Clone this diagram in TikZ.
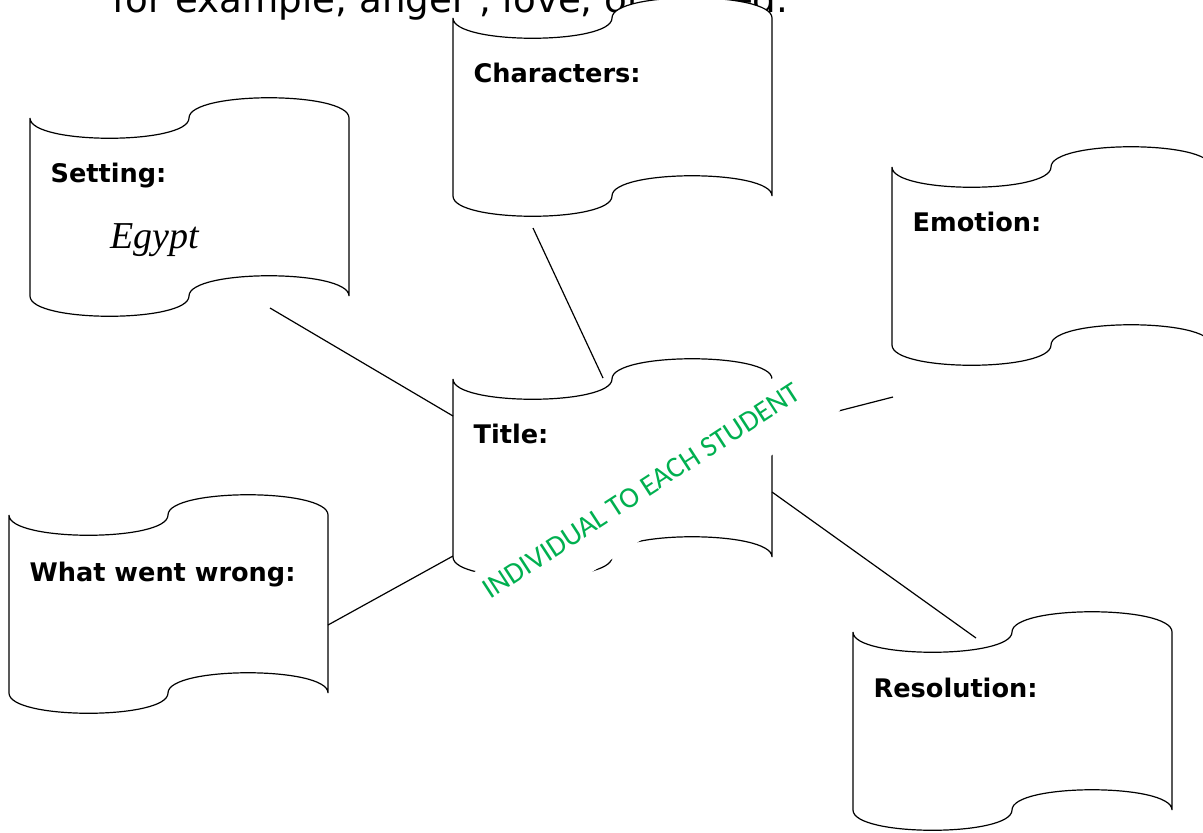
\documentclass[tikz,border=0pt]{standalone}
\usepackage{fontspec}
\setmainfont{DejaVu Sans}
\newfontfamily\egyptfont{Liberation Serif}
\newfontfamily\stampfont{Carlito}
\usepackage{tikz}
\definecolor{stampgreen}{RGB}{0,176,80}

\begin{document}
\begin{tikzpicture}[x=0.5pt, y=-0.5pt, line width=0.6pt,
    heading/.style={anchor=base west, inner sep=0pt, font=\bfseries\fontsize{12.8}{15}\selectfont},
    link/.style={draw, line width=0.6pt},
    scroll/.pic={
        \filldraw[fill=white, draw=black]
            (0,0) .. controls (0,27) and (159,27) .. (159,0)
            .. controls (159,-27) and (319,-27) .. (319,0)
            -- (319,178)
            .. controls (319,151) and (159,151) .. (159,178)
            .. controls (159,205) and (0,205) .. (0,178) -- cycle;
    }]
    \useasboundingbox (0,0) rectangle (1203,832);

    % Hint line, mostly cut off at the top
    \node[anchor=base west, inner sep=0pt, font=\fontsize{18.6}{22}\selectfont] (hint) at (112,12) {for example, anger , love, or hatred.};

    % Scrolls
    \pic at (30,118) {scroll};
    \pic at (453,18) {scroll};
    \pic at (892,167) {scroll};
    \pic at (9,515) {scroll};
    \pic at (453,379) {scroll};
    \pic at (853,632) {scroll};

    % Headings
    \node[heading] (setting) at (50,182) {Setting:};
    \node[heading] (characters) at (473,82) {Characters:};
    \node[heading] (emotion) at (912,231) {Emotion:};
    \node[heading] (wrong) at (29,581) {What went wrong:};
    \node[heading] (title) at (473,443) {Title:};
    \node[heading] (resolution) at (873,697) {Resolution:};
    \node[anchor=base west, inner sep=0pt, font=\egyptfont\itshape\fontsize{19}{22}\selectfont] (egypt) at (110,248) {Egypt};

    % Link ends
    \coordinate (setting-tail) at (270,308);
    \coordinate (title-west) at (453,416);
    \coordinate (characters-tail) at (533,228);
    \coordinate (title-top) at (603,378);
    \coordinate (emotion-tail) at (893,397);
    \coordinate (title-east) at (772,428);
    \coordinate (wrong-east) at (328,625);
    \coordinate (title-sw) at (453,556);
    \coordinate (title-se) at (772,492);
    \coordinate (resolution-top) at (976,638);

    \path[link]
    (setting-tail) -- (title-west)
    (characters-tail) -- (title-top)
    (emotion-tail) -- (title-east)
    (wrong-east) -- (title-sw)
    (title-se) -- (resolution-top);

    % Stamp over the title scroll
    \node[fill=white, inner sep=0pt, text height=16pt, text depth=16pt, rotate=33, anchor=base west,
        text=stampgreen, font=\stampfont\fontsize{14.7}{17}\selectfont] (stamp) at (490,600)
        {\makebox[198pt][l]{INDIVIDUAL TO EACH STUDENT}};
\end{tikzpicture}
\end{document}
